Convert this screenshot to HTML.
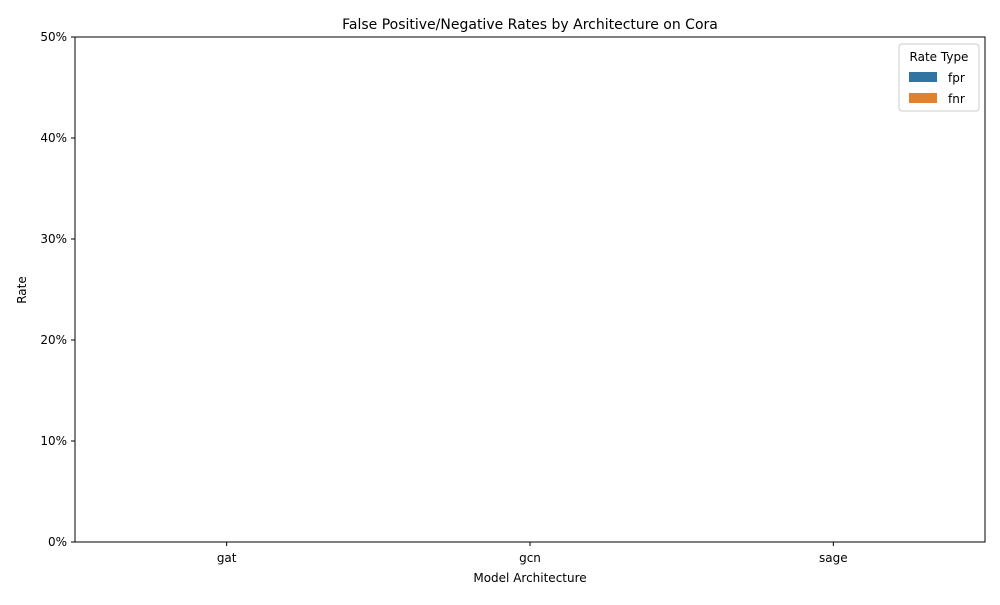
<!DOCTYPE html>
<html><head><meta charset="utf-8"><style>
body{margin:0;background:#fff;font-family:"Liberation Sans","DejaVu Sans",sans-serif;}
</style></head><body>
<svg width="1000" height="600" xmlns="http://www.w3.org/2000/svg" font-family="DejaVu Sans, Liberation Sans, sans-serif">
<rect width="1000" height="600" fill="#fff"/>
<text x="530" y="29" font-size="14" text-anchor="middle">False Positive/Negative Rates by Architecture on Cora</text>
<g id="yticks"></g>
<g id="bars"></g>
<g id="labels"></g>
<rect x="75" y="37" width="910" height="505" fill="none" stroke="#000" stroke-width="1"/>
<g id="xticks"></g>
<text x="530" y="582" font-size="12" text-anchor="middle">Model Architecture</text>
<text x="26" y="290" font-size="12" text-anchor="middle" transform="rotate(-90 26 290)">Rate</text>
<g>
<rect x="899" y="44" width="80" height="67" rx="3" fill="#fff" stroke="#ccc"/>
<text x="939" y="61" font-size="12" text-anchor="middle">Rate Type</text>
<g><rect x="909" y="72" width="28" height="10" fill="#3274a1"/><text x="948" y="82" font-size="12">fpr</text></g>
<g><rect x="909" y="93" width="28" height="10" fill="#e1812c"/><text x="948" y="103" font-size="12">fnr</text></g>
</g>
</svg>
<script>
const categories=["gat","gcn","sage"];
const fprValues=[0,0,0];
const fnrValues=[0,0,0];
const yTicks=[0,0.1,0.2,0.3,0.4,0.5];
const yTickLabels=["0%","10%","20%","30%","40%","50%"];
const NS="http://www.w3.org/2000/svg";
const L=75,R=985,T=37,B=542,ymax=0.5;
const band=(R-L)/categories.length;
const xc=i=>L+band*(i+0.5);
const y=v=>B-(v/ymax)*(B-T);
function mk(tag,at,parent){const e=document.createElementNS(NS,tag);for(const k in at)e.setAttribute(k,at[k]);document.getElementById(parent).appendChild(e);return e;}
yTicks.forEach((v,i)=>{
  const l=mk('line',{x1:L-4,x2:L,y1:y(v),y2:y(v),stroke:'#000'},'yticks');
  
  
  const t=mk('text',{x:L-8,y:y(v)+4,'font-size':12,'text-anchor':'end'},'yticks');
  
  
  t.textContent=yTickLabels[i];
});
const bw=band*0.4;
categories.forEach((c,i)=>{
  [[fprValues,'#3274a1',-1,'fpr'],[fnrValues,'#e1812c',1,'fnr']].forEach(([arr,col,s,n])=>{
    const cx=xc(i)+s*bw/2;
    const r=mk('rect',{x:cx-bw/2,y:y(arr[i]),width:bw,height:B-y(arr[i]),fill:col},'bars');
    
    
    const t=mk('text',{x:cx,y:y(arr[i])+3,'font-size':9,'text-anchor':'middle',fill:'#fff'},'labels');
    
    
    t.textContent=(arr[i]*100).toFixed(1)+'%';
  });
  const tl=mk('line',{x1:xc(i),x2:xc(i),y1:B,y2:B+4,stroke:'#000'},'xticks');
  
  
  const t=mk('text',{x:xc(i),y:B+20,'font-size':12,'text-anchor':'middle'},'xticks');
  
  
  t.textContent=c;
});
</script>
</body></html>
